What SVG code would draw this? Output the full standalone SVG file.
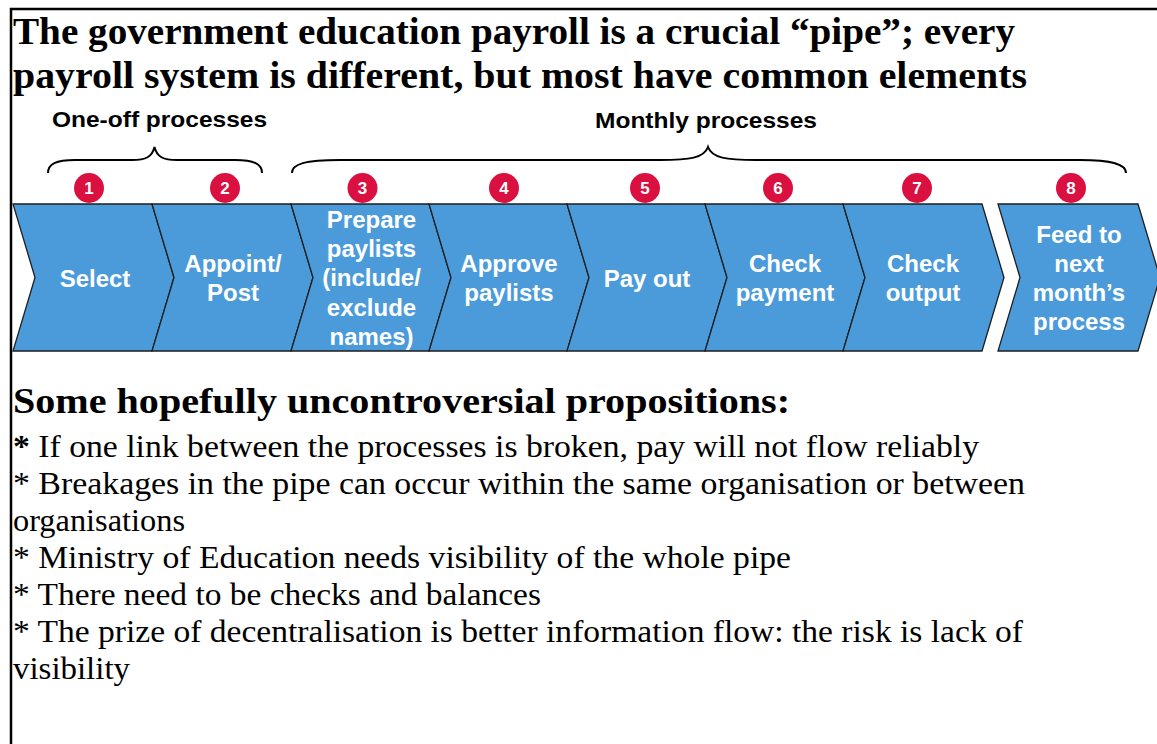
<svg xmlns="http://www.w3.org/2000/svg" width="1157" height="744" viewBox="0 0 1157 744">
<style>
.ttl{font-family:"Liberation Serif","Times New Roman",serif;font-weight:bold;font-size:37px;fill:#000}
.hd{font-family:"Liberation Serif","Times New Roman",serif;font-weight:bold;font-size:35px;fill:#000}
.bd{font-family:"Liberation Serif","Times New Roman",serif;font-size:30.5px;fill:#000}
.grp{font-family:"Liberation Sans",Arial,sans-serif;font-weight:bold;font-size:22px;fill:#000;text-anchor:middle}
.chev{fill:#4B9BDB;stroke:#1e1e1e;stroke-width:1.3;stroke-linejoin:miter}
.lbl{font-family:"Liberation Sans",Arial,sans-serif;font-weight:bold;font-size:24px;fill:#fff;text-anchor:middle}
.num{fill:#D91040}
.numt{font-family:"Liberation Sans",Arial,sans-serif;font-weight:bold;font-size:17px;fill:#fff;text-anchor:middle}
.brace{fill:none;stroke:#000;stroke-width:2}
</style>
<rect x="0" y="0" width="1157" height="744" fill="#fff"/>
<rect x="11" y="9" width="1160" height="760" fill="none" stroke="#000" stroke-width="2.5"/>

<g id="title">
<text class="ttl" x="13" y="44" textLength="1002" lengthAdjust="spacingAndGlyphs">The government education payroll is a crucial “pipe”; every</text>
<text class="ttl" x="13" y="88" textLength="1014" lengthAdjust="spacingAndGlyphs">payroll system is different, but most have common elements</text>
</g>

<g id="group-labels">
<text class="grp" x="159.5" y="127" textLength="215" lengthAdjust="spacingAndGlyphs">One-off processes</text>
<text class="grp" x="706" y="128" textLength="222" lengthAdjust="spacingAndGlyphs">Monthly processes</text>
</g>

<g id="connectors">
<path class="brace" d="M48,173 C48,164 56,160 75,160 L132,160 C146,160 152,157 154.5,147 C157,157 163,160 177,160 L235,160 C254,160 262,164 262,173"/>
<path class="brace" d="M292,173 C292,164 305,160 340,160 L660,160 C690,160 704,158 708,147 C712,158 726,160 756,160 L1080,160 C1112,160 1126,164 1126,173"/>
</g>

<g id="step1">
<polygon class="chev" points="13,204 152,204 174,277.5 152,351 13,351 35,277.5"/>
<circle class="num" cx="89" cy="188" r="15"/><text class="numt" x="89" y="194">1</text>
<text class="lbl" x="95" y="286.5">Select</text>
</g>
<g id="step2">
<polygon class="chev" points="152,204 291,204 313,277.5 291,351 152,351 174,277.5"/>
<circle class="num" cx="225" cy="188" r="15"/><text class="numt" x="225" y="194">2</text>
<text class="lbl" x="233" y="272">Appoint/</text>
<text class="lbl" x="233" y="301">Post</text>
</g>
<g id="step3">
<polygon class="chev" points="291,204 429,204 451,277.5 429,351 291,351 313,277.5"/>
<circle class="num" cx="362.5" cy="188" r="15"/><text class="numt" x="362.5" y="194">3</text>
<text class="lbl" x="371.5" y="227.8">Prepare</text>
<text class="lbl" x="371.5" y="257.1">paylists</text>
<text class="lbl" x="371.5" y="286.4">(include/</text>
<text class="lbl" x="371.5" y="315.7">exclude</text>
<text class="lbl" x="371.5" y="345">names)</text>
</g>
<g id="step4">
<polygon class="chev" points="429,204 567,204 589,277.5 567,351 429,351 451,277.5"/>
<circle class="num" cx="504" cy="188" r="15"/><text class="numt" x="504" y="194">4</text>
<text class="lbl" x="509" y="272">Approve</text>
<text class="lbl" x="509" y="301">paylists</text>
</g>
<g id="step5">
<polygon class="chev" points="567,204 705,204 727,277.5 705,351 567,351 589,277.5"/>
<circle class="num" cx="645" cy="188" r="15"/><text class="numt" x="645" y="194">5</text>
<text class="lbl" x="647" y="286.5">Pay out</text>
</g>
<g id="step6">
<polygon class="chev" points="705,204 843,204 865,277.5 843,351 705,351 727,277.5"/>
<circle class="num" cx="778" cy="188" r="15"/><text class="numt" x="778" y="194">6</text>
<text class="lbl" x="785" y="272">Check</text>
<text class="lbl" x="785" y="301">payment</text>
</g>
<g id="step7">
<polygon class="chev" points="843,204 982,204 1004,277.5 982,351 843,351 865,277.5"/>
<circle class="num" cx="917" cy="188" r="15"/><text class="numt" x="917" y="194">7</text>
<text class="lbl" x="923" y="272">Check</text>
<text class="lbl" x="923" y="301">output</text>
</g>
<g id="step8">
<polygon class="chev" points="998,204 1138,204 1160,277.5 1138,351 998,351 1020,277.5"/>
<circle class="num" cx="1071" cy="188" r="15"/><text class="numt" x="1071" y="194">8</text>
<text class="lbl" x="1079" y="242.5">Feed to</text>
<text class="lbl" x="1079" y="271.8">next</text>
<text class="lbl" x="1079" y="301.1">month’s</text>
<text class="lbl" x="1079" y="330.4">process</text>
</g>

<g id="propositions">
<text class="hd" x="13" y="413" textLength="777" lengthAdjust="spacingAndGlyphs">Some hopefully uncontroversial propositions:</text>
<text class="bd" x="13" y="457" textLength="966" lengthAdjust="spacingAndGlyphs"><tspan font-weight="bold">*</tspan> If one link between the processes is broken, pay will not flow reliably</text>
<text class="bd" x="13" y="494" textLength="1012" lengthAdjust="spacingAndGlyphs">* Breakages in the pipe can occur within the same organisation or between</text>
<text class="bd" x="13" y="531" textLength="172" lengthAdjust="spacingAndGlyphs">organisations</text>
<text class="bd" x="13" y="568" textLength="778" lengthAdjust="spacingAndGlyphs">* Ministry of Education needs visibility of the whole pipe</text>
<text class="bd" x="13" y="605" textLength="528" lengthAdjust="spacingAndGlyphs">* There need to be checks and balances</text>
<text class="bd" x="13" y="642" textLength="1010" lengthAdjust="spacingAndGlyphs">* The prize of decentralisation is better information flow: the risk is lack of</text>
<text class="bd" x="13" y="679" textLength="117" lengthAdjust="spacingAndGlyphs">visibility</text>
</g>
</svg>
